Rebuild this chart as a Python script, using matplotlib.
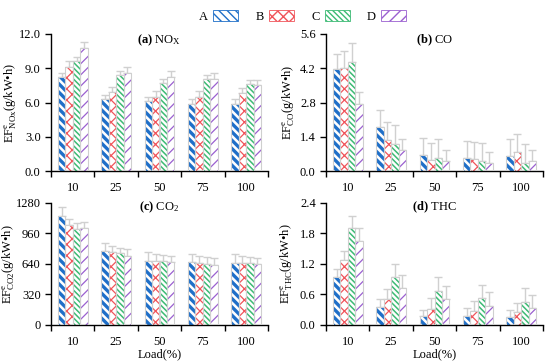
import matplotlib
matplotlib.use("Agg")
import matplotlib.pyplot as plt
import matplotlib.patches as mpatches
import matplotlib.ticker as mticker
import numpy as np

loads = ["10", "25", "50", "75", "100"]
series = ["A", "B", "C", "D"]

nox = {"A": [8.2, 6.3, 6.1, 5.9, 5.9],
       "B": [9.1, 6.9, 6.5, 6.5, 6.8],
       "C": [9.6, 8.4, 7.7, 8.1, 7.6],
       "D": [10.8, 8.6, 8.2, 8.1, 7.5]}
nox_err = {"A": [0.4, 0.4, 0.4, 0.4, 0.4],
           "B": [0.5, 0.5, 0.5, 0.5, 0.5],
           "C": [0.35, 0.35, 0.35, 0.35, 0.35],
           "D": [0.5, 0.5, 0.55, 0.5, 0.5]}

co = {"A": [4.15, 1.8, 0.65, 0.55, 0.6],
      "B": [4.2, 1.25, 0.45, 0.5, 0.78],
      "C": [4.45, 1.1, 0.52, 0.4, 0.35],
      "D": [2.75, 0.85, 0.4, 0.35, 0.42]}
co_err = {"A": [0.65, 0.7, 0.7, 0.67, 0.7],
          "B": [0.7, 0.75, 0.7, 0.68, 0.72],
          "C": [0.8, 0.8, 0.78, 0.75, 0.75],
          "D": [0.5, 0.45, 0.45, 0.45, 0.43]}

co2 = {"A": [1145, 775, 670, 655, 650],
       "B": [1050, 760, 670, 645, 650],
       "C": [1010, 755, 670, 640, 645],
       "D": [1020, 725, 655, 630, 635]}
co2_err = {"A": [95, 85, 90, 85, 90],
           "B": [60, 70, 70, 75, 70],
           "C": [60, 55, 60, 70, 65],
           "D": [60, 75, 65, 70, 65]}

thc = {"A": [0.95, 0.35, 0.17, 0.18, 0.16],
       "B": [1.27, 0.5, 0.32, 0.27, 0.25],
       "C": [1.9, 0.95, 0.67, 0.52, 0.46],
       "D": [1.65, 0.72, 0.5, 0.38, 0.34]}
thc_err = {"A": [0.15, 0.15, 0.13, 0.16, 0.14],
           "B": [0.18, 0.2, 0.2, 0.2, 0.19],
           "C": [0.25, 0.25, 0.27, 0.27, 0.27],
           "D": [0.25, 0.26, 0.26, 0.26, 0.24]}

colors = {"A": "#1f6fc8", "B": "#f0545a", "C": "#3cba74", "D": "#9a5fd0"}
hatches = {"A": "\\\\\\\\", "B": "xxx", "C": "\\\\\\\\\\\\", "D": "///"}
hlw = {"A": 2.4, "B": 0.9, "C": 1.1, "D": 0.9}

plt.rcParams['font.family'] = ['Liberation Serif', 'DejaVu Serif']
plt.rcParams['mathtext.fontset'] = 'custom'
plt.rcParams['mathtext.rm'] = 'Liberation Serif'
plt.rcParams['mathtext.it'] = 'Liberation Serif:italic'
plt.rcParams['mathtext.bf'] = 'Liberation Serif:bold'
plt.rcParams['font.size'] = 9

fig = plt.figure(figsize=(5.5, 3.61), dpi=100)

pos = {
    "a": [0.093, 0.526, 0.394, 0.380],
    "b": [0.593, 0.526, 0.394, 0.380],
    "c": [0.093, 0.100, 0.394, 0.338],
    "d": [0.593, 0.100, 0.394, 0.338],
}
labx = {"a": -0.155, "b": -0.138, "c": -0.16, "d": -0.147}

panels = [
    ("a", nox, nox_err, 12.0, 3.0, "%.1f", r"$\bf{(a)}$ NO$_\mathrm{X}$", r"EF$^\mathrm{e}_\mathrm{NOx}$(g/kW•h)", False),
    ("b", co, co_err, 5.6, 1.4, "%.1f", r"$\bf{(b)}$ CO", r"EF$^\mathrm{e}_\mathrm{CO}$(g/kW•h)", False),
    ("c", co2, co2_err, 1280, 320, "%d", r"$\bf{(c)}$ CO$_2$", r"EF$^\mathrm{e}_\mathrm{CO2}$(g/kW•h)", True),
    ("d", thc, thc_err, 2.4, 0.6, "%.1f", r"$\bf{(d)}$ THC", r"EF$^\mathrm{e}_\mathrm{THC}$(g/kW•h)", True),
]

x = np.arange(len(loads))
w = 0.17
offsets = (np.arange(4) - 1.5) * w

for key, data, err, ymax, step, fmt, title, ylab, showx in panels:
    ax = fig.add_axes(pos[key])
    for i, s in enumerate(series):
        vals = np.array(data[s])
        e = np.array(err[s])
        ax.errorbar(x + offsets[i], vals, yerr=[np.zeros_like(e), e], fmt='none',
                    ecolor='#d0d0d0', elinewidth=1.0, capsize=3, capthick=1.0, zorder=1)
        with plt.rc_context({'hatch.linewidth': hlw[s]}):
            bars = ax.bar(x + offsets[i], vals, width=w, facecolor='white',
                          edgecolor=colors[s], hatch=hatches[s], linewidth=0, zorder=2)
            for b in bars:
                if hasattr(b, 'set_hatch_linewidth'):
                    b.set_hatch_linewidth(hlw[s])
        ax.bar(x + offsets[i], vals, width=w, facecolor='none',
               edgecolor='#cfcfcf', linewidth=0.8, zorder=3)
    ax.set_xlim(-0.5, len(loads) - 0.5)
    ax.set_ylim(0, ymax)
    ax.yaxis.set_major_locator(mticker.MultipleLocator(step))
    ax.yaxis.set_major_formatter(mticker.FormatStrFormatter(fmt))
    ax.set_xticks(x)
    ax.set_xticklabels(loads)
    ax.set_xticks(np.arange(len(loads) + 1) - 0.5, minor=True)
    ax.tick_params(axis='x', which='major', length=0, pad=8)
    ax.tick_params(axis='x', which='minor', length=4, direction='out', width=1)
    ax.tick_params(axis='y', length=4, direction='out', width=1)
    for sp in ['top', 'right']:
        ax.spines[sp].set_visible(False)
    ax.spines['left'].set_linewidth(1.0)
    ax.spines['bottom'].set_linewidth(1.0)
    ax.set_title(title, fontsize=9, y=0.87)
    ax.set_ylabel(ylab)
    ax.yaxis.set_label_coords(labx[key], 0.5)
    if showx:
        ax.set_xlabel("Load(%)", labelpad=0)

handles = []
for s in series:
    with plt.rc_context({'hatch.linewidth': hlw[s]}):
        p = mpatches.Patch(facecolor='white', edgecolor=colors[s], hatch=hatches[s], linewidth=0.6, label=s)
        if hasattr(p, 'set_hatch_linewidth'):
            p.set_hatch_linewidth(hlw[s])
    handles.append(p)
leg = fig.legend(handles=handles, loc='center', bbox_to_anchor=(0.55, 0.955), ncol=4,
                 frameon=False, handlelength=2.0, handleheight=1.0, handletextpad=0.4,
                 columnspacing=1.4, markerfirst=False, fontsize=9)

fig.savefig("out.png", dpi=100)
